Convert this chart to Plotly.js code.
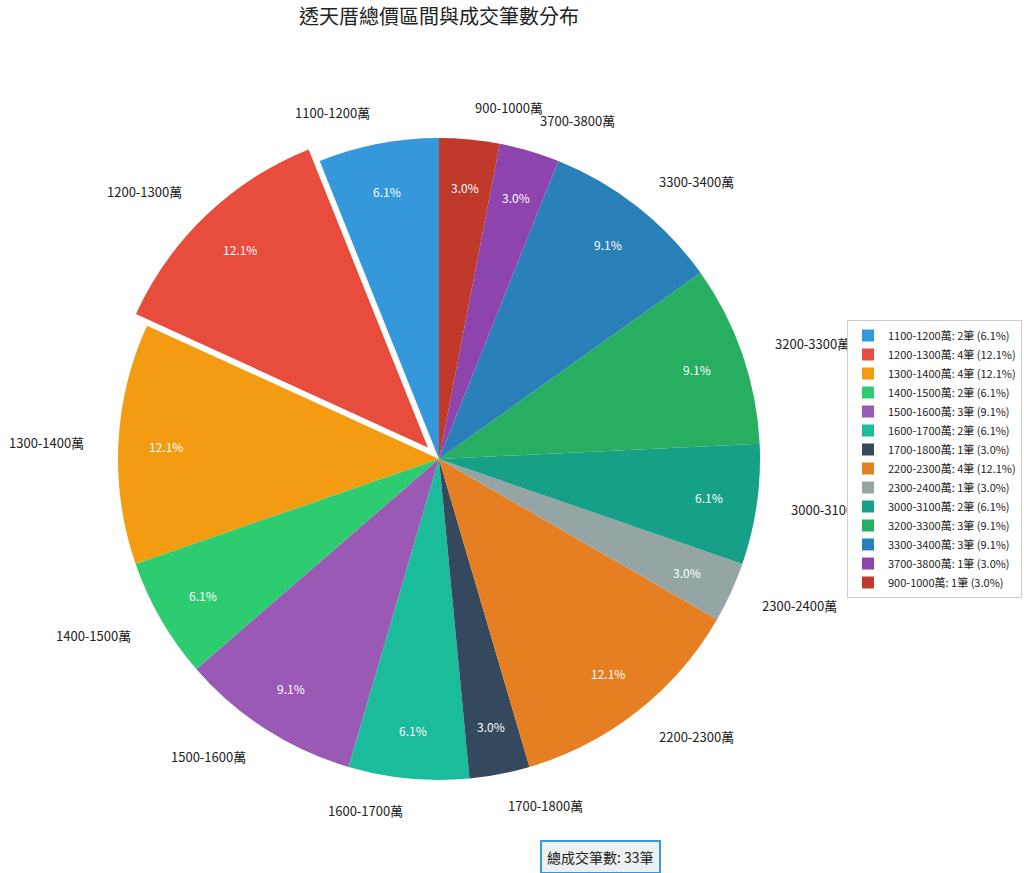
<!DOCTYPE html>
<html>
<head>
<meta charset="utf-8">
<script src="https://cdn.plot.ly/plotly-3.0.1.min.js"></script>
<style>
  body { margin: 0; background: #fff; }
  #chart { width: 1024px; height: 873px; }
</style>
</head>
<body>
<div id="chart"></div>
<script>
// price bands (萬) and number of sales
var bands = ['1100-1200萬', '1200-1300萬', '1300-1400萬', '1400-1500萬', '1500-1600萬',
             '1600-1700萬', '1700-1800萬', '2200-2300萬', '2300-2400萬', '3000-3100萬',
             '3200-3300萬', '3300-3400萬', '3700-3800萬', '900-1000萬'];
var counts = [2, 4, 4, 2, 3, 2, 1, 4, 1, 2, 3, 3, 1, 1];
var colors = ['#3498db', '#e74c3c', '#f39c12', '#2ecc71', '#9b59b6', '#1abc9c', '#34495e',
              '#e67e22', '#95a5a6', '#16a085', '#27ae60', '#2980b9', '#8e44ad', '#c0392b'];
var pulls = [0, 0.05, 0, 0, 0, 0, 0, 0, 0, 0, 0, 0, 0, 0];

var W = 1024, H = 873;
var font = '"Noto Sans CJK TC", "Noto Sans", sans-serif';

var total = counts.reduce(function(a, b) { return a + b; }, 0);
var pcts = counts.map(function(c) { return (c / total * 100).toFixed(1) + '%'; });
var legendNames = bands.map(function(b, i) {
	return b + ': ' + counts[i] + '筆 (' + pcts[i] + ')';
});

// pie geometry (pixels)
var cx = 439, cy = 459, r = 321;
var maxPull = Math.max.apply(null, pulls);
var half = r * (1 + maxPull);
var dom = {
	x: [(cx - half) / W, (cx + half) / W],
	y: [1 - (cy + half) / H, 1 - (cy - half) / H]
};

// labels and percentages placed along each slice's middle angle
var annotations = [];
var cum = 0;
for (var i = 0; i < counts.length; i++) {
	var a0 = 90 + cum / total * 360;
	cum += counts[i];
	var a1 = 90 + cum / total * 360;
	var mid = (a0 + a1) / 2 * Math.PI / 180;
	var ux = Math.cos(mid), uy = Math.sin(mid);
	var ox = pulls[i] * r * ux, oy = pulls[i] * r * uy;
	annotations.push({
		x: (cx + ox + 1.1 * r * ux) / W, y: 1 - (cy - oy - 1.1 * r * uy) / H,
		xref: 'paper', yref: 'paper', showarrow: false,
		xanchor: ux > 0 ? 'left' : 'right', yanchor: 'middle',
		text: bands[i], font: {family: font, size: 13, color: '#222'}
	});
	annotations.push({
		x: (cx + ox + 0.85 * r * ux) / W, y: 1 - (cy - oy - 0.85 * r * uy) / H,
		xref: 'paper', yref: 'paper', showarrow: false,
		xanchor: 'center', yanchor: 'middle',
		text: pcts[i], font: {family: font, size: 12, color: '#ffffff'}
	});
}

annotations.push({
	x: 600 / W, y: 1 - 857 / H, xref: 'paper', yref: 'paper', showarrow: false,
	xanchor: 'center', yanchor: 'middle',
	text: '總成交筆數: ' + total + '筆',
	font: {family: font, size: 14, color: '#222'},
	bgcolor: '#ecf0f1', bordercolor: '#3498db', borderwidth: 2, borderpad: 5
});

var trace = {
	type: 'pie',
	labels: legendNames,
	values: counts,
	sort: false,
	direction: 'counterclockwise',
	// plotly puts the end of the first slice at 12 o'clock, so turn it back
	rotation: -360 * counts[0] / total,
	pull: pulls,
	marker: {colors: colors, line: {width: 0}},
	textinfo: 'none',
	hoverinfo: 'label',
	domain: dom
};

var layout = {
	width: W, height: H,
	margin: {l: 0, r: 0, t: 0, b: 0},
	paper_bgcolor: '#fff',
	font: {family: font},
	title: {
		text: '透天厝總價區間與成交筆數分布',
		x: cx / W, xanchor: 'center', y: 1 - 17 / H, yanchor: 'middle',
		font: {family: font, size: 20, color: '#222'}
	},
	showlegend: true,
	legend: {
		x: 847 / W, y: 1 - cy / H, xanchor: 'left', yanchor: 'middle',
		bgcolor: '#ffffff', bordercolor: '#cccccc', borderwidth: 1,
		font: {family: font, size: 11, color: '#222'},
		traceorder: 'normal'
	},
	annotations: annotations
};

Plotly.newPlot('chart', [trace], layout, {displayModeBar: false, staticPlot: true}).then(function(gd) {
	// legend sits above the slice labels, like the original
	var lg = gd.querySelector('g.legend');
	if (lg) lg.parentNode.appendChild(lg);
});
</script>
</body>
</html>
